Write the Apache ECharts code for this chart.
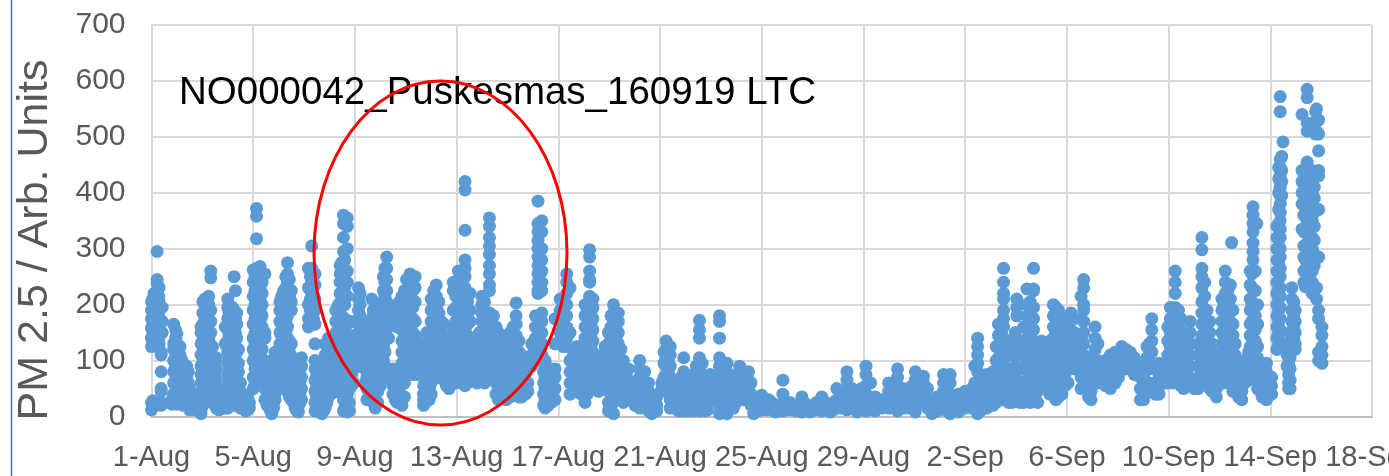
<!DOCTYPE html>
<html><head><meta charset="utf-8">
<style>html,body{margin:0;padding:0;background:#fff}#c{width:1389px;height:476px}</style>
<script src="https://cdn.jsdelivr.net/npm/echarts@6/dist/echarts.min.js"></script>
</head><body><div id="c"></div>
<script>
const tickLabels=["1-Aug","5-Aug","9-Aug","13-Aug","17-Aug","21-Aug","25-Aug","29-Aug","2-Sep","6-Sep","10-Sep","14-Sep","18-Sep"];
const yTicks=[0,100,200,300,400,500,600,700];
// each row: [days since 1-Aug, PM 2.5 readings at about that time...]
const aug01to04=[
[0,12,25,125,140,158,175,190,205],[0.05,18,28,130,150,170,190,210],[0.15,130,150,170,185,200,215],
[0.22,295,245,238,220,205,190,175,155,135],[0.3,230,205,190,170,150,130],[0.38,115,110,80,50,45,25,20],[0.42,150,170,195],
[0.8,22,30],[0.87,165,130,120,100,80,60,40,25],[1,148,130,115,100,85,70,50,35,22],[1.12,125,110,90,70,55,40,25],
[1.25,85,70,50,30,20],[1.38,90,70,50,35,20],[1.5,50,35,20,12],[1.65,15,20],[1.85,10,30,40],
[1.95,5,12,25,40,60,75,90,110,130,150,160],[2.1,210,190,175,155,140,120,100,85,65,50,35],[2.25,215,200,185,165,140,120],
[2.33,260,248,190,170,150,120,100,80],[2.45,100,85,65,45,30],[2.55,105,85,65,45,30,15],[2.65,40,25,12],
[2.9,20,15,130,160],[3,210,195,175,155,135,115,95,75,55,35,15],[3.1,180,160,140,120,100,75,50,30],
[3.25,250,190,175,150,130,110,85,60,40,25],[3.35,185,165,140,115,90,70,50,35,20],[3.5,60,45,30,15],[3.7,35,20,10],[3.85,25,15],
[0.1,135,160,180,200,220],[0.28,140,160,180,215],[0.95,30,45,65,90,110,140,155],[1.07,30,45,62,80,105,120],[1.2,25,40,60,80,100],
[1.32,25,40,60,80],[1.45,25,40,60,80],[1.75,12,22,32],[2.02,20,45,70,95,115,135,165,185,205],[2.18,45,70,95,110,130,160,180,205],
[2.3,60,80,110,130],[2.4,40,60,75,90,105,125],[2.5,20,35,55,75,95],[2.6,25,15,50],[2.78,15,25],
[3.05,25,45,65,85,105,125,145,165,185],[3.18,20,40,60,80,100,120,140,160,195],[3.3,30,45,60,80,100,125,150,175,225],
[3.42,20,30,45,60,80,95,120],[3.6,15,25,40],[3.78,12,22,38]
];
const aug05to08=[
[4,50,70,100,120,140,165,190,215,240,262],[4.13,372,358,318,265,250,230,210,185,160,135,110,90,60],
[4.27,268,250,230,210,190,170,150,130,110,85,65],[4.46,255,150,140,100,90,70,50,30],[4.66,40,30,20,12],[4.73,5,12,45],
[4.86,30,40,115,105,90,75,60],[5.05,205,190,170,150,130,110,90,75,60],[5.2,225,210,190,170,150,130,110,90,70,55],
[5.35,275,255,240,220,200,180,160,140,120,100,80,60,45],[5.5,225,205,190,130,100,80,60,45,30],[5.65,90,70,50,30,15],
[5.78,60,40,20,8],[5.9,105,90,70,50,30],[6.17,265,230,200,175,160],[6.3,305,265,240,220,200,180,165],
[6.43,255,235,210,190,165,130,100,85,65,45,25,10],[6.56,70,50,30,10],[6.7,65,45,25,5],[6.83,130,110,95,75,55,35,15],
[6.96,140,120,85,65,50,35],[7.15,75,60,45],[7.35,200,180,160,140,120,100,90,55,45],[7.42,270,255,240,220,195,170],
[7.55,360,345,320,295,265,245,225,205,130,110,70,50,30,10],[7.7,355,340,300,260,240,215,165,130,100,60,40,20,8],
[7.87,170,130,100,75,55],
[4.07,60,85,110,130,150,175,200,225,250],[4.2,100,120,145,175,200,220,240,260],[4.35,75,95,120,140,160,180,200,220,240],
[4.55,20,35,55,80],[4.8,15,25,50],[4.95,55,70,85,100,115],[5.12,65,85,105,125,145,165,185,215],
[5.28,50,70,90,110,130,150,170,190,210,230,250],[5.42,35,55,75,95,115,135,190,215,245],[5.58,25,45,65,85,105],
[5.72,10,25,45,65,80],[5.85,25,45,65,85],[6.25,170,190,210,230,250],[6.37,175,195,215,235,250],[6.5,15,35,55,75,95],
[6.63,8,25,45,60,85],[6.77,10,30,50,70,90],[6.9,25,45,65,85,105,125],[7.05,40,60,80,95,110],
[7.25,45,65,85,110,130,150,170,190],[7.48,150,180,210,250,275],[7.6,15,35,55,80,100,120,150,175,200,230,255,280],
[7.78,10,25,50,75,110,140],[7.95,60,85,115,145]
];
const aug09to12=[
[8.07,170,130,110,90],[8.14,230,210,190,170,150,130,110,90],[8.33,100,120,150],[8.47,70,50,30],
[8.66,210,175,160,140,120,100,80,60,40],[8.8,15,30,50,70,90,110,130,155,180],[9,170,150,130,110,95,75,55],
[9.12,250,225,205,180,165,145,125,100,80],[9.25,285,265,245,225,205,185,165],[9.38,185,195],[9.5,40,55,70,85],
[9.65,200,180,160,25,35,50,60],[9.85,20,30,215,195,175,155,135,115,95,75],[10.03,245,225,205,185,165,145,125,105,85],
[10.17,255,235,205,180,160,140,120,100],[10.37,250,230,205,170,145,120,100,80],[10.7,20,30,40,55,70],
[10.83,150,130,110,90,70,50,30],[11,40,60,75,210,190,170,150,130,110,90],[11.2,235,215,195,175,155,135,115,95,75],
[11.4,170,150,130,110,90,75],[11.6,140,120,100,85,55],[11.87,240,225,190,160,140,120,100,80,60],
[8.2,100,120,140,160,180,200,220],[8.4,60,85,110,135],[8.55,35,60,85,115,145,170],[8.72,25,50,70,90,115,135,160,190],
[8.9,25,45,65,85,105,125,145,165],[9.06,65,85,105,125,145,165,200],[9.18,90,115,135,155,175,215,240,265],[9.32,140,160,175],
[9.58,30,45,60,75],[9.75,30,45,60,80,175,190,205],[9.95,35,60,85,105,125,145,165,185,205,225],
[10.1,80,95,115,135,155,175,195,215,240],[10.28,75,90,110,130,150,175,195,225,245],[10.45,75,95,115,135],
[10.77,25,35,50,65,85,105,125],[10.92,30,50,70,85,105,125,145],[11.1,80,100,120,140,160,180,200,225],
[11.3,70,85,105,125,145,165,185,205],[11.5,65,85,105,125,145,165],[11.7,50,70,90,110,130],
[11.97,60,85,110,130,150,170,195,215,235]
];
const aug13to16=[
[12.07,260,240,220,200,180,160,140,120,100,80],[12.33,420,405,333,280,265,250,230,210,195,175,155,135,115,95,75,55],
[12.53,220,190,170,120,105,90],[12.99,215,200,185,170,150,130,110,90,70],
[13.29,355,340,320,305,290,270,255,235,225,185,165,155],[13.45,180,160,140,120,100,80],[13.64,150,130,110,90,70,50,30],
[13.84,140,120,100,80,60,40],[14.1,150,130,110,90,70,50,35],[14.34,203,180,165,145,125,105,85,65,45],
[14.56,110,90,70,50,35],[14.63,100],[14.8,60,45],[15.1,180,160,140,120,100],
[15.2,385,345,330,315,300,285,270,255,240,225,220],[15.35,350,330,300,280,260,240,225,185,170,150,130,110],
[15.48,100,90,70,50,30,15],[15.87,175,130,85,70,50,30],
[12.2,60,80,100,120,145,165,190,210,230],[12.43,60,80,100,125,145,165,185,205],[12.65,65,80,100,115,135],[12.8,60,80,100,120],
[12.9,70,90,110,130,150],[13.1,60,75,95,115,140,160,180,205],[13.2,65,85,105,125,145,165],[13.55,40,60,80,100,120,140,160],
[13.74,40,60,80,100,120,135],[13.95,30,50,70,90,110,130],[14.22,40,60,80,100,120,140,160],[14.45,35,55,75,95,115,135],
[14.7,40,55,75,95],[14.95,90,110,130],[15.42,20,40,60,80],[15.6,20,35,55,75],[15.72,25,45,65,85]
];
const aug17to20=[
[16.07,210,190,170,150,135],[16.33,255,240,220,200,180,160,140,125],[16.46,230,150,100,80,60,40],[16.73,125,105,85,65,45],
[17.05,200,180,160,140,120,100,80,60,40,25],[17.23,298,285,260,245,240,215,200,180,160,140,120,100,80,60],
[17.36,210,195,175,155,135,115,95,80,60],[17.58,100,80,60,45],[17.84,125,110,90,70],[17.97,150,130,110,90,70,45,25,10],
[18.17,200,185,170,150,130,110,90,70,45,25,5],[18.36,185,170,150,130,110,90],[18.56,100,90,65,45,25],[18.76,85,65,45],
[19.02,50,35,20],[19.2,100,85,70,55,40,25,15],[19.4,80,60,40,20],[19.67,35,20,5],[19.87,35,20,10],
[16.2,125,145,165,185,205],[16.6,50,70,90,110],[16.9,40,60,80,100,120],[17.14,40,60,80,100,120,140,160,190],
[17.3,70,90,110,130,150,170,190,205],[17.47,50,70,90,110],[17.7,60,80,100],[18.07,20,40,60,80,100,120,140,160,180],
[18.27,60,80,100,120,140,160,180],[18.46,40,60,80,100,120],[18.66,35,55,75],[18.9,30,45,60],[19.1,20,30,45],
[19.3,20,35,50,65,80],[19.55,10,25,45,60],[19.78,10,25,38]
];
const aug21to31=[
[20.07,50,60],[20.24,135,120,105,90,75,60,45],[20.4,125,110,90,70,50,30,15],[20.73,55,40,25,10],[20.93,105,80,65,50,30,10],
[21.3,75,60,40,25,10],[21.55,172,155,140,105,90,75,60,45,30,10],[21.77,60,45,30,10],[21.97,75,60,45,30],
[22.34,180,170,140,105,90,75,60,40,20,5],[22.63,95,75,60,45,25,5],[22.89,70,50,30,15],[23.13,90,75,60,45],[23.48,80,65,50,30],
[23.68,30,20,5],[24,38,25],[24.27,30,20],[24.53,15,8],[24.83,65,40,25,10],[25.12,25,12],[25.58,35,20,8],[25.9,18,8],
[26.36,35,20,10],[26.69,18,8],[26.95,50,30,15],[27.35,80,65,45,30,12],[27.74,35,20,8],[28.1,90,75,55,40,25,10],
[28.46,35,20,10],[28.99,60,45,30,15],[29.34,85,70,55,40,25,10],[29.8,35,15],[30.04,80,65,50,35,20,8],
[20.16,50,70,95,115],[20.32,60,80,100,120],[20.57,15,30,45,60],[20.83,15,30,50,70],[21.1,10,25,40,60],[21.43,15,30,50,70,90],
[21.66,15,35,55,75,95],[21.87,12,25,45],[22.15,30,45,60],[22.48,10,30,50,70,90],[22.76,15,35,55,75],[23,25,45,65],
[23.3,30,50,70],[23.58,20,40,60],[23.85,10,22,35],[24.15,12,28],[24.4,12,25],[24.68,10,20],[24.98,12,25],[25.35,10,20],
[25.75,10,22],[26.15,12,25],[26.52,12,25],[26.82,12,25],[27.15,15,30,45],[27.55,15,30,50],[27.92,15,30,50],[28.28,15,35,60],
[28.72,15,30],[29.17,20,35,50],[29.58,15,30,50],[29.92,15,30,55]
];
const sep01to08=[
[30.36,72,60,40,25],[30.69,15,5,25],[31.15,75,60,45,30,15],[31.41,75,60,40,20,5],[31.74,40,25,8],[32.26,50,35,15],
[32.49,140,125,110,95,80,60,40,20,5],[32.85,75,55,35,15],[33.31,165,145,125,105,85,70,50,35],
[33.51,265,240,220,210,190,175,160,140,120,100,80,60,40],[33.71,40,25],[33.97,90,75,60,45,35,150,130],[34.03,210,195,180],
[34.43,228,200,180,160,140,120,100,85,65,45,30],[34.69,265,228,225,195,175,155,135,115,95,75,55,35],[35,135,120,100,80,60],
[35.47,200,180,160,140,120,100,80,60],[35.67,190,170,150,130,110,90,70,40,35],[35.93,175,155,135,115,95,75,55],
[36.16,185,170,150,130,115,90],[36.46,130,110,90],[36.66,245,230,200,190,170,150,130,110],[36.72,100,80,60],[36.85,50,35],
[37.11,160,140,120,100,80],[37.38,90,75],[37.71,110,90,70,50],[37.9,115,100,85,60],[38.16,125,105,85],[38.49,115,100,85],
[30.52,15,30,50],[30.9,10,20,35],[31.28,10,25,45,65],[31.58,10,22,38],[32,15,30,45],[32.38,20,40,60,90],[32.6,10,30,55,75],
[33.1,20,40,60,80],[33.22,25,45,65,100,125],[33.42,30,50,75,100,130,150],[33.6,35,60,85,110,130],[33.84,25,45,65,85,110,135],
[34.15,25,40,60,85,110,130],[34.3,25,40,60,85,110,135,160],[34.56,25,45,70,95,120,150,175,205],[34.85,25,45,65,90,110,130],
[35.15,55,75,95,115,130],[35.33,40,60,85,110,135],[35.57,30,50,75,100,125,150,175,195],[35.8,40,60,85,110,135,160],
[36.05,60,85,110,130,160],[36.3,85,105,125,150],[36.56,50,70,90,115,140,175,215],[36.95,30,45,65,85,105],[37.22,60,80,100,130],
[37.52,55,70,85,100],[37.82,60,80,100],[38.03,70,90,110],[38.32,85,100,120],[38.66,75,90,105]
];
const sep09to16=[
[38.89,90,70,50,30],[39.15,125,105,85],[39.34,175,155,135,115,90],[39.48,60,40],[39.87,80,60],[40.07,195,175,150,125,100],
[40.26,260,240,220,195,175,155,135,115],[40.39,190,170,150,130,110],[40.59,125,90,70,50],[40.85,170,150,130,110,90],[41.01,50,60],
[41.31,320,298,265,250,230,205,185,165,145,125,105,85],[41.51,190,170,150,130,110,90],[41.71,130,110,90,60,45],
[42.1,210,190,170,150,130,110,85,65],[42.23,260,240,220,200,180,160,140,120,100],[42.43,235,210,190,170,150,130,110,90],[42.48,311],
[42.62,130,110,90],[42.75,90,70,50,35],[43.15,115,100,85,65],[43.21,260,235,210,190,165,145,125],
[43.32,375,360,345,330,310,295,280],[43.41,260,225,200,180,155,135,105],[43.47,345],[43.61,75,60,45],[43.74,90,75,60,40],
[44.26,340,320,300,280,260,240,220,200,180,160,140,120],
[44.39,572,545,460,445,430,410,395,380,365,350,335,320,300,285,265,250,230,215,195,175,155,135],[44.5,491],
[44.72,115,95,75,60,50],[44.66,130,110,90],[44.85,230,210,190,170,150,135,120],[44.98,190,170,150,130,120],
[45.25,540,440,420,400,380,335],[45.38,280,232],[45.45,585,570,525,510,455,430,410,390,370,350,330,310,290,270],
[45.65,440,420,400,370,350,320,300,280,260,240,220],[45.82,550,530,510,230,210],[45.9,530,505,475,440,430,370,285,190,175,115,100],
[46.03,160,145,125,110,95],
[39.02,30,50,70,90],[39.25,45,60,85,110,130],[39.62,40,55,75,95],[39.97,60,85,110,135,160],[40.17,60,80,100,125,145,165,190],
[40.48,55,75,95,115,135,155,175],[40.72,55,75,95,115,135],[41.16,50,70,90,110,130],[41.42,60,80,100,120,140,160,180,215,240],
[41.62,50,70,90,110,130,150,170],[41.88,35,50,70,90,110],[42.17,60,80,100,125,145,170,195],[42.33,60,85,110,130,150,175,200,225],
[42.53,45,60,80,100,125,145,165,190],[42.88,30,45,60,75],[43,60,80,100],[43.28,75,95,115,140,170,200,230,255],
[43.5,50,65,85,105,125,165,200],[43.68,35,50,65],[43.85,30,45,60,80,95],[44.05,40,55,70],[44.33,130,150,170,190,210,230,255,275,295,315,345,370,400,425,445],
[44.45,395,420,440,465],[44.78,50,65,85,105,130,150],[44.92,120,140,160,180,205],[45.32,240,260,285,305,330,360,395,425],
[45.55,235,255,275,300,325,345,365,385,410,435],[45.73,270,290,315,340,365,390,410,430],[45.78,505,525,545]
];
const blocks=[aug01to04,aug05to08,aug09to12,aug13to16,aug17to20,aug21to31,sep01to08,sep09to16];
const points=[];
blocks.forEach(b=>b.forEach(r=>r.slice(1).forEach(v=>points.push([r[0],v]))));

const chart=echarts.init(document.getElementById('c'),null,{renderer:'canvas'});
const F='"Liberation Sans",Arial,sans-serif';
chart.setOption({
  animation:false,backgroundColor:'#fff',
  grid:{left:151.5,right:17,top:25,bottom:59.5,containLabel:false,outerBoundsMode:'none'},
  xAxis:{type:'value',min:0,max:48,interval:4,
    axisLine:{show:true,onZero:false,lineStyle:{color:'#bfbfbf',width:2}},axisTick:{show:false},
    splitLine:{show:true,lineStyle:{color:'#d9d9d9',width:2}},
    axisLabel:{show:true,color:'#595959',fontFamily:F,fontSize:29,margin:27,hideOverlap:false,showMinLabel:true,showMaxLabel:true,
      formatter:v=>tickLabels[Math.round(v/4)]}},
  yAxis:{type:'value',min:0,max:700,interval:100,
    axisLine:{show:true,lineStyle:{color:'#d9d9d9',width:2}},axisTick:{show:false},
    splitLine:{show:true,lineStyle:{color:'#d9d9d9',width:2}},
    axisLabel:{color:'#595959',fontFamily:F,fontSize:30,margin:26,formatter:v=>String(v)}},
  series:[{type:'scatter',data:points,symbol:'circle',symbolSize:13,clip:false,
    itemStyle:{color:'#5b9bd5',opacity:1},z:3}],
  graphic:[
    {type:'line',shape:{x1:11.5,y1:0,x2:11.5,y2:476},style:{stroke:'#4472c4',lineWidth:1.5},z:1},
    {type:'text',x:35,y:240,rotation:Math.PI/2,style:{text:'PM 2.5 / Arb. Units',font:'43px '+F,fill:'#595959',textAlign:'center',textVerticalAlign:'middle'},z:5},
    {type:'text',x:179,y:74,style:{text:'NO000042_Puskesmas_160919 LTC',font:'38.5px '+F,fill:'#000'},z:20},
    {type:'ellipse',shape:{cx:440.5,cy:253,rx:126.5,ry:172},style:{fill:'none',stroke:'#ff0000',lineWidth:3},z:30}
  ]
});
</script></body></html>
